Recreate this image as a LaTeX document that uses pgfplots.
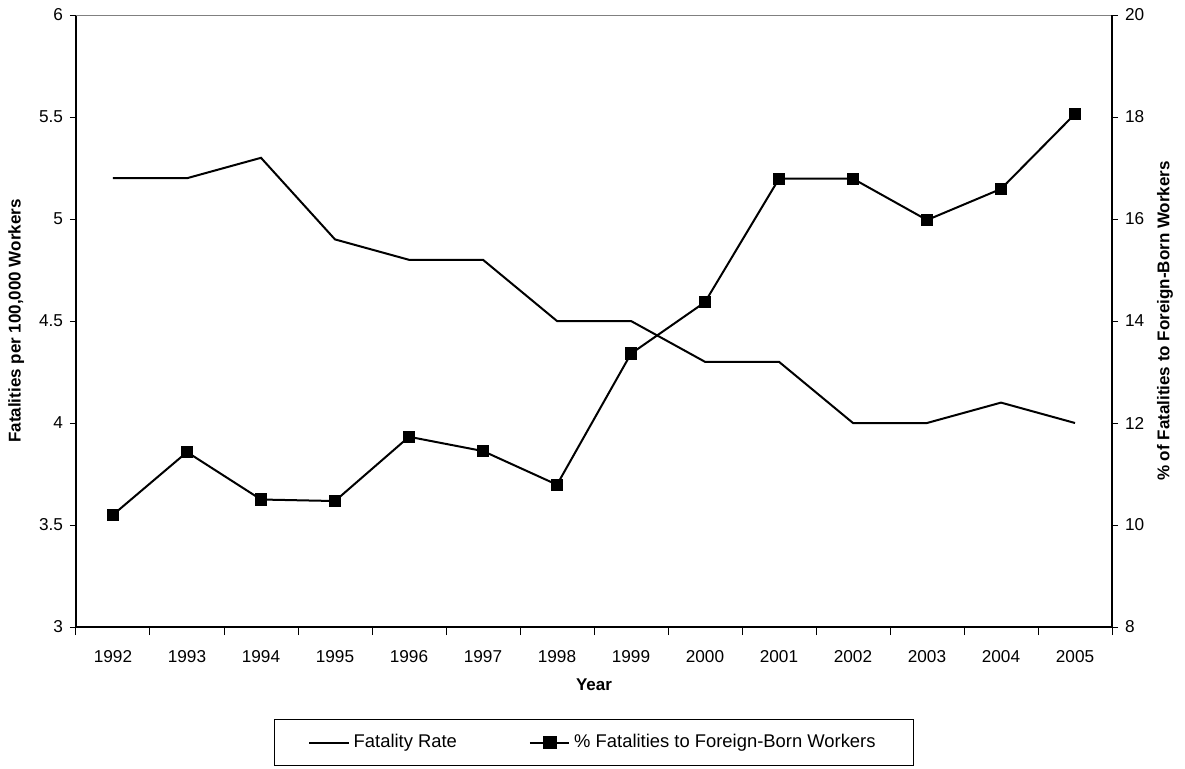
\documentclass[border=0pt]{standalone}
\usepackage{fontspec}
\setmainfont{Liberation Sans}
\usepackage{pgfplots}
\pgfplotsset{compat=1.18}

\newcommand\lblfont{\fontsize{8.5}{10}\selectfont\bfseries}
\pgfplotsset{
  common/.style={
    scale only axis, width=518pt, height=306pt,
    at={(0,0)}, anchor=south west,
    xmin=-0.5, xmax=13.5,
    /pgf/number format/assume math mode=true,
    tick label style={font=\fontsize{8.6}{10}\selectfont},
    axis line style={-, line width=0.6pt},
    tick style={black, line width=0.5pt},
    tick align=outside,
    major tick length=3pt,
  }
}

\begin{document}
\begin{tikzpicture}
\path[use as bounding box] (-38pt,-70.5pt) rectangle (554.5pt,313.5pt);

% fatality rate, left axis
\begin{axis}[common,
  axis x line*=bottom, axis y line*=left,
  ymin=3, ymax=6, ytick={3,3.5,...,6},
  yticklabel style={/pgf/number format/.cd, fixed, precision=1},
  xtick={0,...,13}, major x tick style={draw=none},
  xticklabels={1992,1993,1994,1995,1996,1997,1998,1999,2000,2001,2002,2003,2004,2005},
  xticklabel style={yshift=-5pt},
  minor xtick={-0.5,0.5,...,13.5}, minor tick length=4pt,
  xlabel={Year},
  every axis x label/.style={at={(axis description cs:0.5,0)}, yshift=-29pt, anchor=center, font=\lblfont},
  ylabel={Fatalities per 100,000 Workers},
  every axis y label/.style={at={(axis description cs:-0.0576,0.5)}, rotate=90, anchor=center, font=\lblfont},
]
\addplot[black, line width=1pt, mark=none] coordinates {
  (0,5.2) (1,5.2) (2,5.3) (3,4.9) (4,4.8) (5,4.8) (6,4.5)
  (7,4.5) (8,4.3) (9,4.3) (10,4.0) (11,4.0) (12,4.1) (13,4.0)};
\draw[gray, line width=0.6pt] (rel axis cs:0,1) -- (rel axis cs:1,1);
\end{axis}

% foreign-born share, right axis
\begin{axis}[common,
  axis x line=none, axis y line*=right,
  ymin=8, ymax=20, ytick={8,10,...,20},
  ylabel={\% of Fatalities to Foreign-Born Workers},
  every axis y label/.style={at={(axis description cs:1.0512,0.5)}, rotate=90, anchor=center, font=\lblfont},
  legend columns=2,
  legend style={at={(0.5,0)}, anchor=north, yshift=-46pt, draw=black, line width=0.5pt,
    font=\fontsize{9.2}{11}\selectfont, inner xsep=17pt, inner ysep=5.5pt,
    /tikz/every even column/.append style={column sep=34pt}},
  legend cell align=left,
  legend image post style={xscale=1.15},
]
\addlegendimage{black, line width=1pt}
\addlegendentry{Fatality Rate}
\addplot[black, line width=1pt, mark=square*, mark size=2.6pt] coordinates {
  (0,10.2) (1,11.43) (2,10.5) (3,10.47) (4,11.73) (5,11.45) (6,10.79)
  (7,13.36) (8,14.37) (9,16.79) (10,16.79) (11,15.98) (12,16.59) (13,18.06)};
\addlegendentry{\% Fatalities to Foreign-Born Workers}
\end{axis}
\end{tikzpicture}
\end{document}
